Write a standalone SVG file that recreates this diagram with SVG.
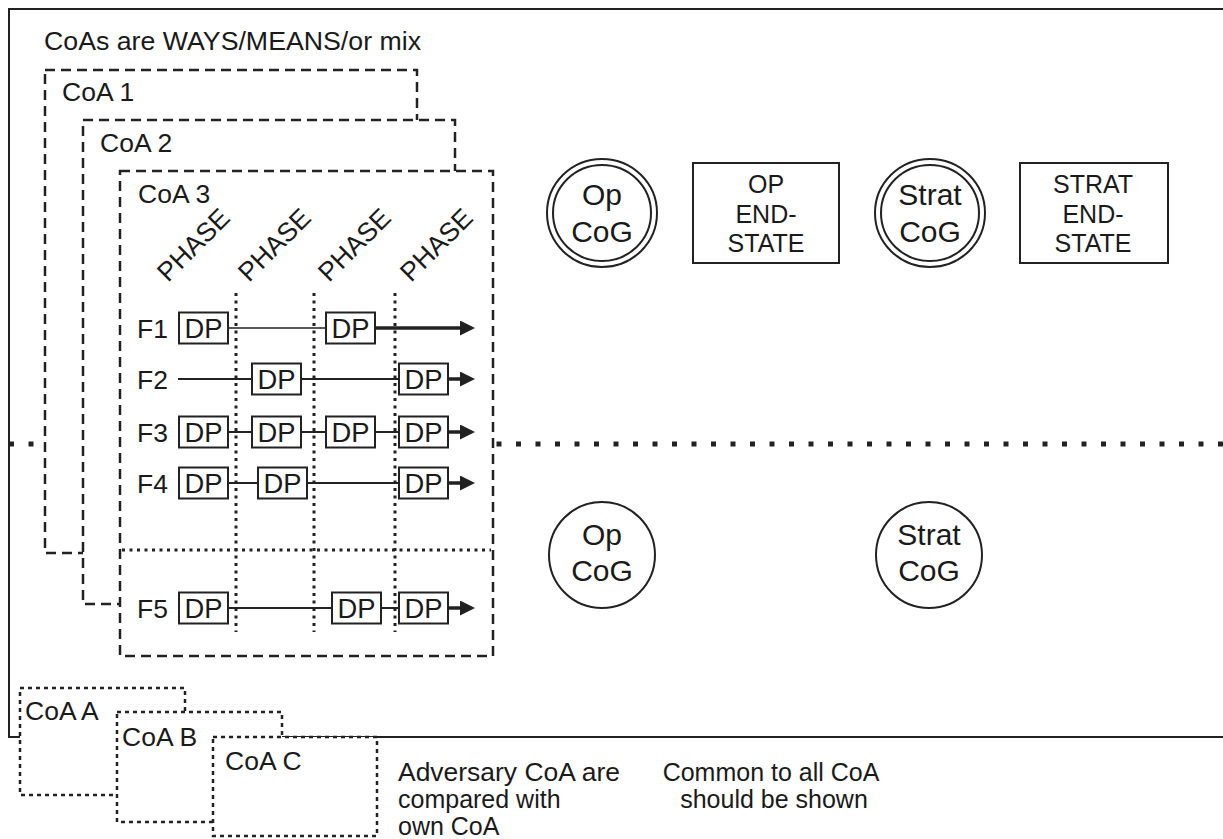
<svg xmlns="http://www.w3.org/2000/svg" width="1223" height="839" viewBox="0 0 1223 839">
<style>
text { font-family: "Liberation Sans", Arial, Helvetica, sans-serif; fill: #1a1a1a; }
.lbl { font-size: 26.5px; }
.note { font-size: 25px; }
.mid { text-anchor: middle; }
.frame { fill: none; stroke: #222; stroke-width: 2; }
.bigdot { fill: none; stroke: #222; stroke-width: 5; stroke-dasharray: 5 14.5; }
.coa { fill: #fff; stroke: #222; stroke-width: 2.5; stroke-dasharray: 10 6; }
.adv { fill: #fff; stroke: #222; stroke-width: 2.5; stroke-dasharray: 4 4; }
.phase { fill: none; stroke: #222; stroke-width: 3; stroke-dasharray: 3 4.5; }
.conn { stroke: #222; stroke-width: 2; fill: none; }
.arr { stroke: #222; stroke-width: 3.5; fill: none; marker-end: url(#ah); }
.node { fill: #fff; stroke: #222; stroke-width: 2; }
.cog { font-size: 30px; text-anchor: middle; }
.es { font-size: 25px; text-anchor: middle; }
</style>
<defs>
<marker id="ah" markerUnits="userSpaceOnUse" markerWidth="15" markerHeight="15" refX="0" refY="7.5" orient="auto">
<path d="M0,0 L15,7.5 L0,15 z" fill="#222"/>
</marker>
<g id="dpbox">
<rect x="0" y="-15.5" width="49" height="31" fill="#fff" stroke="#222" stroke-width="2"/>
<text x="24.5" y="10" font-family="Liberation Sans, Arial, sans-serif" font-size="27.5" text-anchor="middle" textLength="38" lengthAdjust="spacingAndGlyphs" fill="#1a1a1a">DP</text>
</g>
</defs>

<g id="frame">
<rect class="frame" x="9" y="9" width="1240" height="728"/>
<text class="lbl" x="44" y="50" textLength="377" lengthAdjust="spacingAndGlyphs">CoAs are WAYS/MEANS/or mix</text>
</g>

<g id="divider">
<line class="bigdot" x1="9" y1="444" x2="1223" y2="444"/>
</g>

<g id="coa1">
<rect class="coa" x="45" y="70" width="372" height="483"/>
<text class="lbl" x="62" y="101">CoA 1</text>
</g>
<g id="coa2">
<rect class="coa" x="83" y="120" width="372" height="484"/>
<text class="lbl" x="100" y="152">CoA 2</text>
</g>
<g id="coa3">
<rect class="coa" x="120" y="171" width="373" height="485"/>
<text class="lbl" x="138" y="203">CoA 3</text>
<g id="phases" class="lbl">
<text transform="translate(168,283) rotate(-45)">PHASE</text>
<text transform="translate(249,283) rotate(-45)">PHASE</text>
<text transform="translate(329,283) rotate(-45)">PHASE</text>
<text transform="translate(411,283) rotate(-45)">PHASE</text>
</g>
<line class="phase" x1="236" y1="293" x2="236" y2="632"/>
<line class="phase" x1="314" y1="293" x2="314" y2="632"/>
<line class="phase" x1="395" y1="293" x2="395" y2="632"/>
<line class="phase" x1="122" y1="550" x2="491" y2="550"/>
</g>

<g id="connectors">
<line class="conn" x1="228" y1="328" x2="326" y2="328" style="stroke-width:1.6"/>
<line class="arr" x1="375" y1="328" x2="460" y2="328"/>
<line class="conn" x1="178" y1="379" x2="252" y2="379"/>
<line class="conn" x1="302" y1="379" x2="399" y2="379"/>
<line class="arr" x1="448" y1="379" x2="460" y2="379"/>
<line class="conn" x1="228" y1="432" x2="399" y2="432"/>
<line class="arr" x1="448" y1="432" x2="460" y2="432"/>
<line class="conn" x1="228" y1="483" x2="399" y2="483"/>
<line class="arr" x1="448" y1="483" x2="460" y2="483"/>
<line class="conn" x1="228" y1="608" x2="399" y2="608"/>
<line class="arr" x1="448" y1="608" x2="460" y2="608"/>
</g>

<g id="rows">
<g id="f1"><text class="lbl" x="137" y="338">F1</text>
<use href="#dpbox" x="179" y="328"/><use href="#dpbox" x="326" y="328"/></g>
<g id="f2"><text class="lbl" x="137" y="389">F2</text>
<use href="#dpbox" x="252" y="379"/><use href="#dpbox" x="399" y="379"/></g>
<g id="f3"><text class="lbl" x="137" y="442">F3</text>
<use href="#dpbox" x="179" y="432"/><use href="#dpbox" x="252" y="432"/><use href="#dpbox" x="326" y="432"/><use href="#dpbox" x="399" y="432"/></g>
<g id="f4"><text class="lbl" x="137" y="493">F4</text>
<use href="#dpbox" x="179" y="483"/><use href="#dpbox" x="258" y="483"/><use href="#dpbox" x="399" y="483"/></g>
<g id="f5"><text class="lbl" x="137" y="618">F5</text>
<use href="#dpbox" x="179" y="608"/><use href="#dpbox" x="332" y="608"/><use href="#dpbox" x="399" y="608"/></g>
</g>

<g id="op-cog-top">
<ellipse class="node" cx="602" cy="213" rx="55" ry="54"/>
<ellipse class="node" cx="602" cy="213" rx="49" ry="48"/>
<text class="cog" x="602" y="205">Op</text>
<text class="cog" x="602" y="242">CoG</text>
</g>
<g id="op-endstate">
<rect class="node" x="693" y="163" width="146" height="100"/>
<text class="es" x="766" y="193">OP</text>
<text class="es" x="766" y="223">END-</text>
<text class="es" x="766" y="252">STATE</text>
</g>
<g id="strat-cog-top">
<ellipse class="node" cx="930" cy="213" rx="55" ry="54"/>
<ellipse class="node" cx="930" cy="213" rx="49" ry="48"/>
<text class="cog" x="930" y="205">Strat</text>
<text class="cog" x="930" y="242">CoG</text>
</g>
<g id="strat-endstate">
<rect class="node" x="1020" y="163" width="148" height="100"/>
<text class="es" x="1093" y="193">STRAT</text>
<text class="es" x="1093" y="223">END-</text>
<text class="es" x="1093" y="252">STATE</text>
</g>

<g id="op-cog-bottom">
<circle class="node" cx="602" cy="555" r="53"/>
<text class="cog" x="602" y="545">Op</text>
<text class="cog" x="602" y="581">CoG</text>
</g>
<g id="strat-cog-bottom">
<circle class="node" cx="929" cy="555" r="53"/>
<text class="cog" x="929" y="545">Strat</text>
<text class="cog" x="929" y="581">CoG</text>
</g>

<g id="coaA">
<rect class="adv" x="20" y="688" width="165" height="107"/>
<text class="lbl" x="25" y="720">CoA A</text>
</g>
<g id="coaB">
<rect class="adv" x="117" y="712" width="165" height="110"/>
<text class="lbl" x="122" y="746">CoA B</text>
</g>
<g id="coaC">
<rect class="adv" x="213" y="737" width="164" height="99"/>
<text class="lbl" x="225" y="770">CoA C</text>
</g>

<g id="notes" class="note">
<text x="398" y="781" textLength="222" lengthAdjust="spacingAndGlyphs">Adversary CoA are</text>
<text x="398" y="808">compared with</text>
<text x="398" y="835">own CoA</text>
<text x="771" y="781" class="mid">Common to all CoA</text>
<text x="774" y="808" class="mid">should be shown</text>
</g>
</svg>
